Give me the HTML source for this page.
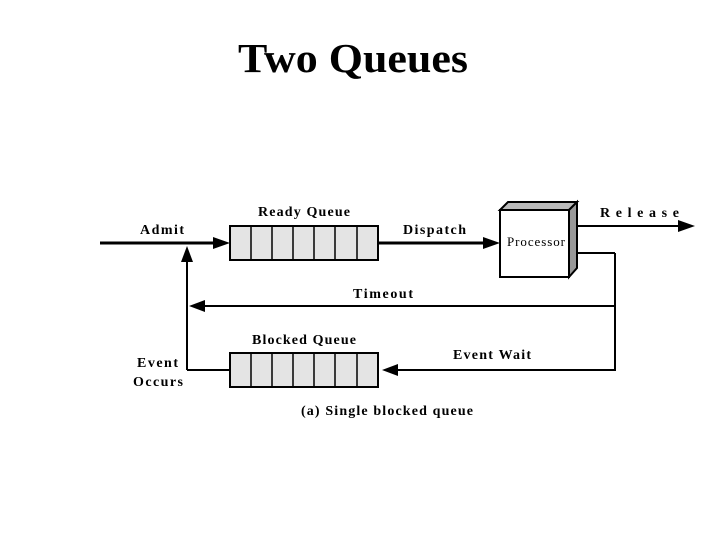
<!DOCTYPE html>
<html><head><meta charset="utf-8"><style>body{margin:0;background:#fff}svg{display:block}</style></head><body>
<svg width="720" height="540" viewBox="0 0 720 540" xmlns="http://www.w3.org/2000/svg" font-family="Liberation Serif, serif" font-weight="bold">
<rect width="720" height="540" fill="#fff"/>
<text x="238" y="72" font-size="41" textLength="230" lengthAdjust="spacingAndGlyphs">Two Queues</text>
<g stroke="#000" fill="none">
<rect x="230" y="226" width="148" height="34" fill="#e4e4e4" stroke-width="2"/>
<path d="M251 226V260M272 226V260M293 226V260M314 226V260M335 226V260M357 226V260" stroke-width="1.5"/>
<rect x="230" y="353" width="148" height="34" fill="#e4e4e4" stroke-width="2"/>
<path d="M251 353V387M272 353V387M293 353V387M314 353V387M335 353V387M357 353V387" stroke-width="1.5"/>
<path d="M100 243H218" stroke-width="3"/>
<path d="M378 243H490" stroke-width="3"/>
<path d="M187 370V258" stroke-width="2"/>
<path d="M187 370H230" stroke-width="2"/>
<path d="M615 253V370H395" stroke-width="2"/>
<path d="M615 306H200" stroke-width="2"/>
<path d="M577 253H615" stroke-width="2"/>
<path d="M577 226H680" stroke-width="2"/>
<polygon points="500,210 508,202 577,202 569,210" fill="#bbb" stroke-width="2"/>
<polygon points="569,210 577,202 577,268 569,277" fill="#999" stroke-width="2"/>
<rect x="500" y="210" width="69" height="67" fill="#fff" stroke-width="2"/>
</g>
<g fill="#000">
<polygon points="230,243 213,237 213,249"/>
<polygon points="500,243 483,237 483,249"/>
<polygon points="695,226 678,220 678,232"/>
<polygon points="187,246 181,262 193,262"/>
<polygon points="189,306 205,300 205,312"/>
<polygon points="382,370 398,364 398,376"/>
</g>
<g font-size="14" lengthAdjust="spacingAndGlyphs">
<text x="140" y="234" textLength="44">Admit</text>
<text x="258" y="216" textLength="92">Ready Queue</text>
<text x="403" y="234" textLength="63">Dispatch</text>
<text x="600" y="217" textLength="79">Release</text>
<text x="353" y="298" textLength="60">Timeout</text>
<text x="252" y="344" textLength="104">Blocked Queue</text>
<text x="453" y="359" textLength="78">Event Wait</text>
<text x="137" y="367" textLength="41">Event</text>
<text x="133" y="386" textLength="50">Occurs</text>
<text x="301" y="415" textLength="172">(a) Single blocked queue</text>
<text x="507" y="246" font-weight="normal" font-size="13" textLength="58">Processor</text>
</g>
</svg>
</body></html>
